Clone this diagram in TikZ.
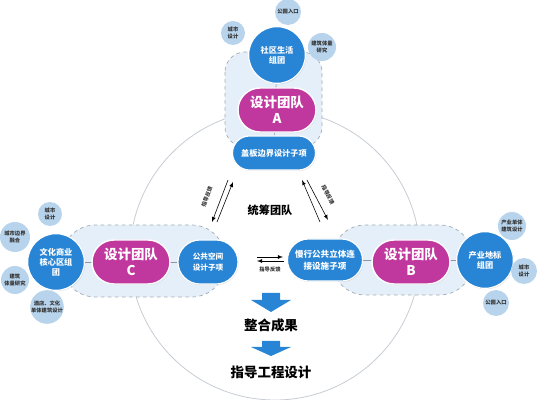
\documentclass[tikz,border=0pt]{standalone}
\usepackage{fontspec}
\setmainfont{Noto Sans CJK SC}
\usetikzlibrary{backgrounds,shadows}

\definecolor{teamred}{RGB}{192,56,158}
\definecolor{groupblue}{RGB}{40,132,212}
\definecolor{satblue}{RGB}{184,212,236}
\definecolor{bandfill}{RGB}{229,239,249}
\definecolor{ringgray}{RGB}{200,205,212}
\definecolor{linegray}{RGB}{140,150,160}

\begin{document}
\begin{tikzpicture}[x=0.03cm,y=-0.03cm,
	team/.style={rectangle,rounded corners=0.66cm,fill=teamred,draw=white,line width=1.2pt,
		text=white,font=\fontsize{11.5}{14}\selectfont\bfseries,align=center,
		minimum width=2.34cm,minimum height=1.32cm,inner sep=0pt,
		drop shadow={shadow xshift=0.6pt,shadow yshift=-0.8pt,opacity=0.25}},
	group/.style={circle,fill=groupblue,draw=white,line width=1pt,text=white,
		font=\fontsize{7}{8.5}\selectfont\bfseries,align=center,minimum size=1.7cm,inner sep=0pt,
		drop shadow={shadow xshift=0.6pt,shadow yshift=-0.8pt,opacity=0.25}},
	sub/.style={rectangle,fill=groupblue,draw=white,line width=1pt,text=white,
		font=\fontsize{7}{9}\selectfont\bfseries,align=center,inner sep=0pt,
		drop shadow={shadow xshift=0.6pt,shadow yshift=-0.8pt,opacity=0.25}},
	sat/.style={circle,fill=satblue,text=black!80,font=\fontsize{4.5}{5.5}\selectfont\bfseries,
		align=center,inner sep=0pt},
	band/.style={fill=bandfill,draw=linegray!80,dashed,line width=0.6pt},
	link/.style={draw=linegray,line width=0.5pt},
	fb/.style={line width=0.5pt,-latex},
	fblabel/.style={font=\fontsize{4.5}{5}\selectfont\bfseries,text=black!80,inner sep=0pt},
	big/.style={font=\fontsize{11.5}{13}\selectfont\bfseries,inner sep=0pt}]
	\useasboundingbox (0,0) rectangle (550,400);

	% team A
	\node[group] (cirA) at (277,55) {社区生活\\组团};
	\node[team] (teamA) at (277,110) {设计团队\\A};
	\node[sub,minimum width=2.49cm,minimum height=1.02cm,rounded corners=0.51cm] (subA) at (274,153) {盖板边界设计子项};
	\node[sat,minimum size=0.78cm] (satA1) at (288,12) {公园入口};
	\node[sat,minimum size=0.72cm] (satA2) at (233,33) {城市\\设计};
	\node[sat,minimum size=0.84cm] (satA3) at (322,47) {建筑体量\\研究};

	% team C
	\node[group] (cirC) at (56,262) {文化商业\\核心区组\\团};
	\node[team] (teamC) at (131,262) {设计团队\\C};
	\node[sub,minimum width=1.8cm,minimum height=1.32cm,rounded corners=0.66cm,font=\fontsize{6.5}{9}\selectfont\bfseries] (subC) at (208,262) {公共空间\\设计子项};
	\node[sat,minimum size=0.72cm] (satC1) at (50,214) {城市\\设计};
	\node[sat,minimum size=0.9cm] (satC2) at (15,237) {城市边界\\融合};
	\node[sat,minimum size=0.84cm] (satC3) at (15,280) {建筑\\体量研究};
	\node[sat,minimum size=0.96cm] (satC4) at (47,307) {酒店、文化\\单体建筑设计};

	% team B
	\node[group] (cirB) at (485,260) {产业地标\\组团};
	\node[team] (teamB) at (411,262) {设计团队\\B};
	\node[sub,minimum width=2.25cm,minimum height=1.26cm,rounded corners=0.63cm,font=\fontsize{7.3}{10}\selectfont\bfseries] (subB) at (325,260) {慢行公共立体连\\接设施子项};
	\node[sat,minimum size=0.84cm] (satB1) at (512,226) {产业单体\\建筑设计};
	\node[sat,minimum size=0.78cm] (satB2) at (524,271) {城市\\设计};
	\node[sat,minimum size=0.78cm] (satB3) at (496,303) {公园入口};

	% hub and feedback arrows
	\node[font=\fontsize{9.5}{11}\selectfont\bfseries] (hub) at (270,210) {统筹团队};
	\coordinate (l1) at (228,180); \coordinate (l2) at (212,222);
	\coordinate (l3) at (217,222); \coordinate (l4) at (233,182);
	\coordinate (r1) at (320,222); \coordinate (r2) at (302,180);
	\coordinate (r3) at (307,180); \coordinate (r4) at (328,220);
	\coordinate (m1) at (257,257); \coordinate (m2) at (283,257);
	\coordinate (m3) at (284,261); \coordinate (m4) at (257,261);
	\draw[fb] (l1) -- (l2);
	\draw[fb] (l3) -- (l4);
	\draw[fb] (r1) -- (r2);
	\draw[fb] (r3) -- (r4);
	\draw[fb] (m1) -- (m2);
	\draw[fb] (m3) -- (m4);
	\node[fblabel,rotate=69] (fbl) at (207,197) {指导反馈};
	\node[fblabel,rotate=-63] (fbr) at (328,195) {指导反馈};
	\node[fblabel] (fbm) at (270,270) {指导反馈};

	% results
	\fill[groupblue] (262,293) -- (280,293) -- (280,300) -- (291,300) -- (271,312) -- (251,300) -- (262,300) -- cycle;
	\node[big] (res1) at (271,325) {整合成果};
	\fill[groupblue] (262,341) -- (280,341) -- (280,347) -- (291,347) -- (271,356) -- (251,347) -- (262,347) -- cycle;
	\node[big] (res2) at (271,372) {指导工程设计};

	\begin{scope}[on background layer]
	\draw[ringgray,line width=0.7pt] (275,255) circle[radius=145];
	\draw[band,rounded corners=0.6cm] (225,52) rectangle (322,147);
	\draw[band,rounded corners=1cm] (62,225) rectangle (225,297);
	\draw[band,rounded corners=1cm] (332,225) rectangle (473,295);
	\draw[link] (cirA) -- (subA);
	\draw[link] (cirC) -- (subC);
	\draw[link] (subB) -- (cirB);
	\end{scope}
\end{tikzpicture}
\end{document}
